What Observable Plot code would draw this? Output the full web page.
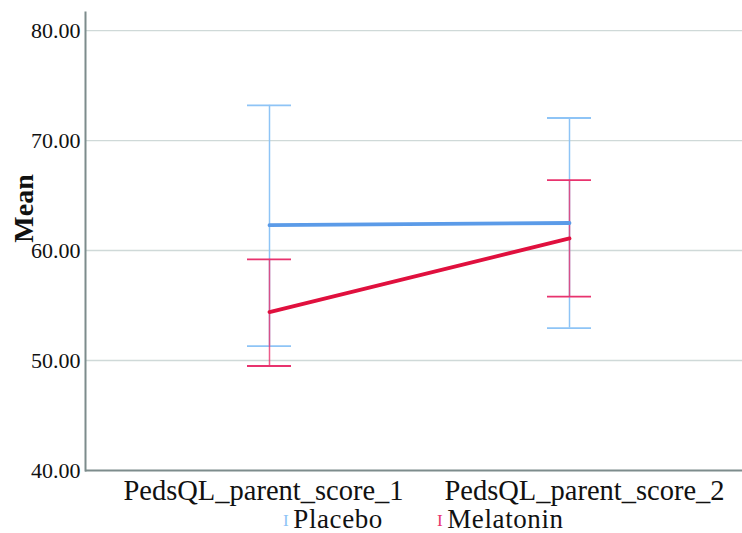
<!DOCTYPE html>
<html>
<head>
<meta charset="utf-8">
<script src="https://cdn.jsdelivr.net/npm/d3@7"></script>
<script src="https://cdn.jsdelivr.net/npm/@observablehq/plot@0.6"></script>
<style>
  body { margin: 0; background: #fff; font-family: "Liberation Serif", serif; }
  #chart { position: relative; width: 742px; }
  #chart svg { overflow: visible; }
  #legend { position: relative; width: 742px; height: 25px; font-size: 27px; line-height: 25px; color: #111; letter-spacing: 0.6px; }
  #legend span.item { position: absolute; top: -1px; white-space: nowrap; }
  #legend span.sym { font-size: 17px; margin-right: 4px; vertical-align: 2px; }
</style>
</head>
<body>
<div id="chart"></div>
<div id="legend"></div>
<script>
const categories = ["PedsQL_parent_score_1", "PedsQL_parent_score_2"];
const groups = ["Placebo", "Melatonin"];
const placeboMean = [62.3, 62.5];
const placeboLow = [51.3, 52.95];
const placeboHigh = [73.2, 72.05];
const melatoninMean = [54.4, 61.1];
const melatoninLow = [49.5, 55.8];
const melatoninHigh = [59.2, 66.4];
const yTicks = [40, 50, 60, 70, 80];

const errColor = {Placebo: "#8ec4f6", Melatonin: "#e8336e"};
const lineColor = {Placebo: "#5b9be8", Melatonin: "#e0103e"};

const rows = [];
categories.forEach((c, i) => {
  rows.push({cat: c, group: "Placebo", mean: placeboMean[i], lo: placeboLow[i], hi: placeboHigh[i]});
  rows.push({cat: c, group: "Melatonin", mean: melatoninMean[i], lo: melatoninLow[i], hi: melatoninHigh[i]});
});
const byGroup = g => rows.filter(d => d.group === g);

const marks = [
  Plot.ruleY(yTicks.filter(t => t > 40), {stroke: "#cfd9d8", strokeWidth: 1.3}),
];
for (const g of groups) {
  const data = byGroup(g);
  marks.push(
    Plot.ruleX(data, {x: "cat", y1: "lo", y2: "hi", stroke: errColor[g], strokeWidth: 1.5, strokeOpacity: g === "Melatonin" ? 0.8 : 1}),
    Plot.ruleY(data, {x1: "cat", x2: "cat", y: "hi", stroke: errColor[g], strokeWidth: 1.8, insetLeft: -22, insetRight: -22}),
    Plot.ruleY(data, {x1: "cat", x2: "cat", y: "lo", stroke: errColor[g], strokeWidth: 1.8, insetLeft: -22, insetRight: -22})
  );
}
for (const g of groups) {
  marks.push(Plot.line(byGroup(g), {x: "cat", y: "mean", stroke: lineColor[g], strokeWidth: 3.8}));
}
marks.push(
  Plot.ruleY([40], {stroke: "#7d8c8c", strokeWidth: 2}),
  Plot.frame({anchor: "left", stroke: "#7d8c8c", strokeWidth: 2}),
  Plot.axisY({ticks: yTicks, tickFormat: d => d.toFixed(2), tickSize: 0, tickPadding: 5, label: null, fontSize: 22, fill: "#111"}),
  Plot.axisX([categories[0]], {tickSize: 0, tickPadding: 9, dx: -6, label: null, fontSize: 28.5, fill: "#111"}),
  Plot.axisX([categories[1]], {tickSize: 0, tickPadding: 9, dx: 15, label: null, fontSize: 28.5, fill: "#111"}),
  Plot.text(["Mean"], {frameAnchor: "left", textAnchor: "middle", dx: -61, dy: -33, rotate: -90, fontSize: 28, fontWeight: "bold", fill: "#111"})
);

const chart = Plot.plot({
  width: 742,
  height: 508,
  marginLeft: 85,
  marginRight: 0,
  marginTop: 12,
  marginBottom: 38,
  style: {fontFamily: "Liberation Serif, serif", fontSize: "22px", background: "#fff", overflow: "visible"},
  x: {domain: categories, range: [269, 569], padding: 0, axis: null},
  y: {domain: [40, 81.64], axis: null},
  marks
});
document.getElementById("chart").appendChild(chart);

const legend = document.getElementById("legend");
const legendLeft = {Placebo: 283, Melatonin: 437};
for (const g of groups) {
  const item = document.createElement("span");
  item.className = "item";
  item.style.left = legendLeft[g] + "px";
  item.innerHTML = `<span class="sym" style="color:${errColor[g]}">I</span>${g}`;
  legend.appendChild(item);
}
</script>
</body>
</html>
